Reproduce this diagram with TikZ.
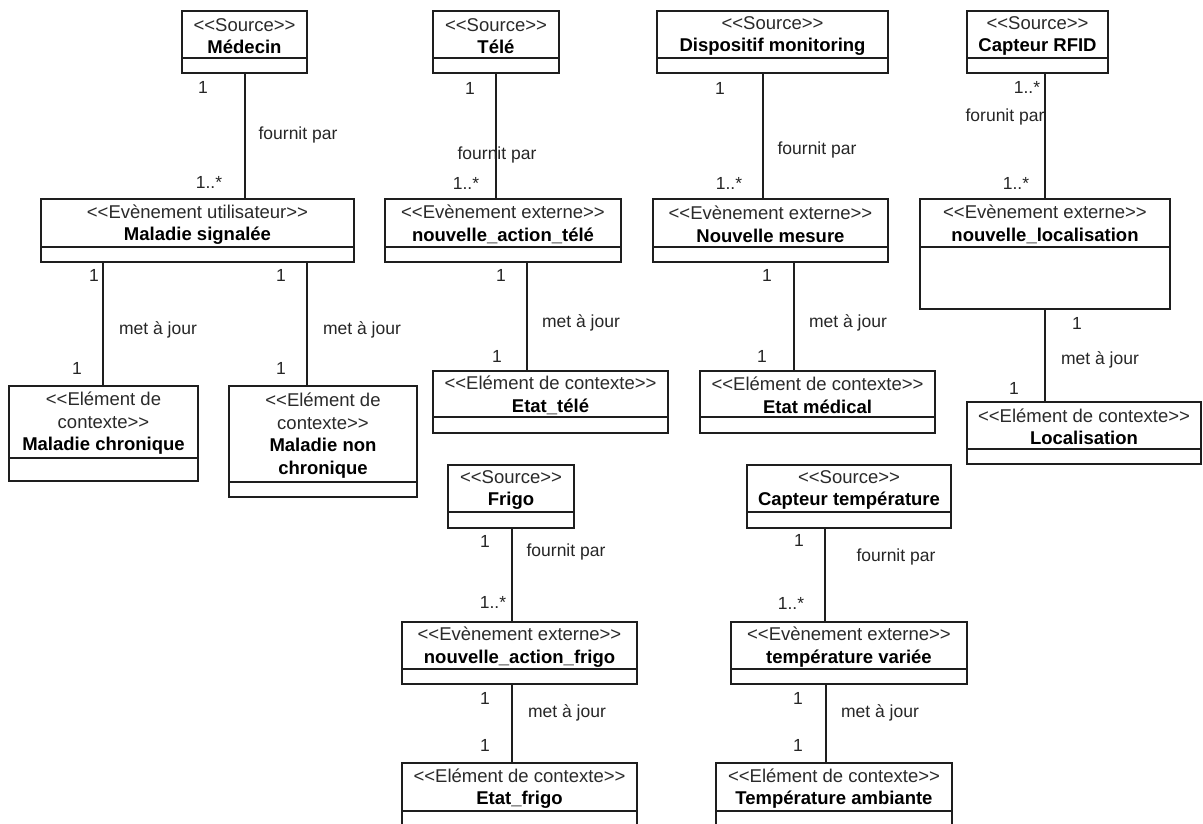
\documentclass[tikz,border=0pt]{standalone}
\usepackage{fontspec}
\setmainfont{Liberation Sans}
\definecolor{linec}{HTML}{1E1E1E}
\definecolor{stc}{HTML}{2A2A2A}
\newcommand{\stl}{<\kern0pt<}
\newcommand{\stg}{>\kern0pt>}
\newcommand{\stereo}[1]{{\color{stc}\stl#1\stg}}
\newcommand{\stereoa}[1]{{\color{stc}\stl#1}}
\newcommand{\stereob}[1]{{\color{stc}#1\stg}}
\tikzset{
 cls/.style={draw=linec, line width=1.5pt, inner sep=0pt, rectangle},
 clstext/.style={align=center, inner sep=0pt, font=\fontsize{18.5}{22.5}\selectfont, text=black},
 lbl/.style={inner sep=0pt, font=\fontsize{17.5}{20}\selectfont, text=black!85},
 assoc/.style={draw=linec, line width=1.5pt},
}
% name, x1, y1, x2, y2, ydivider, text
\newcommand{\umlc}[7]{%
 \node[cls, minimum width={#4-#2}, minimum height={#5-#3}] (#1) at ({(#2+#4)/2},{(#3+#5)/2}) {};
 \draw[assoc] (#1.west |- 0,#6) -- (#1.east |- 0,#6);
 \node[clstext] (#1-t) at ({(#2+#4)/2},{(#3+#6)/2+1.5}) {#7};
}
\newcommand{\lab}[4]{\node[lbl] (#1) at (#2,#3) {#4};}
\begin{document}
\begin{tikzpicture}[x=1pt,y=-1pt]
\fill[white] (0,0) rectangle (1203,823);
\useasboundingbox (0,0) rectangle (1203,823);

% ---- classes ----
\umlc{medecin}{182}{11}{307}{73}{58}{\stereo{Source}\\\textbf{Médecin}}
\umlc{malsig}{41}{199}{354}{262}{247}{\stereo{Evènement utilisateur}\\\textbf{Maladie signalée}}
\umlc{malchr}{9}{386}{198}{481}{458}{\stereoa{Elément de}\\\stereob{contexte}\\\textbf{Maladie chronique}}
\umlc{malnon}{229}{386}{417}{497}{482}{\stereoa{Elément de}\\\stereob{contexte}\\\textbf{Maladie non}\\\textbf{chronique}}

\umlc{tele}{433}{11}{559}{73}{58}{\stereo{Source}\\\textbf{Télé}}
\umlc{natele}{385}{199}{621}{262}{247}{\stereo{Evènement externe}\\\textbf{nouvelle\_action\_télé}}
\umlc{etattele}{433}{371}{668}{433}{417}{\stereo{Elément de contexte}\\\textbf{Etat\_télé}}

\umlc{dispo}{657}{11}{888}{73}{58}{\stereo{Source}\\\textbf{Dispositif monitoring}}
\umlc{nmesure}{653}{199}{888}{262}{247}{\stereo{Evènement externe}\\\textbf{Nouvelle mesure}}
\umlc{etatmed}{700}{371}{935}{433}{417}{\stereo{Elément de contexte}\\\textbf{Etat médical}}

\umlc{rfid}{967}{11}{1108}{73}{58}{\stereo{Source}\\\textbf{Capteur RFID}}
\umlc{nloc}{920}{199}{1170}{309}{247}{\stereo{Evènement externe}\\\textbf{nouvelle\_localisation}}
\umlc{loc}{967}{402}{1201}{464}{449}{\stereo{Elément de contexte}\\\textbf{Localisation}}

\umlc{frigo}{448}{465}{574}{528}{512}{\stereo{Source}\\\textbf{Frigo}}
\umlc{nafrigo}{402}{622}{637}{684}{669}{\stereo{Evènement externe}\\\textbf{nouvelle\_action\_frigo}}
\umlc{etatfrigo}{402}{763}{637}{828}{811}{\stereo{Elément de contexte}\\\textbf{Etat\_frigo}}

\umlc{captemp}{747}{465}{951}{528}{512}{\stereo{Source}\\\textbf{Capteur température}}
\umlc{tempvar}{731}{622}{967}{684}{669}{\stereo{Evènement externe}\\\textbf{température variée}}
\umlc{tempamb}{716}{763}{952}{828}{811}{\stereo{Elément de contexte}\\\textbf{Température ambiante}}

% ---- connectors ----
\draw[assoc] (medecin.south -| 245,0) -- (malsig.north -| 245,0);
\draw[assoc] (malsig.south -| 103,0) -- (malchr.north -| 103,0);
\draw[assoc] (malsig.south -| 307,0) -- (malnon.north -| 307,0);
\draw[assoc] (tele.south -| 496,0) -- (natele.north -| 496,0);
\draw[assoc] (natele.south -| 527,0) -- (etattele.north -| 527,0);
\draw[assoc] (dispo.south -| 763,0) -- (nmesure.north -| 763,0);
\draw[assoc] (nmesure.south -| 794,0) -- (etatmed.north -| 794,0);
\draw[assoc] (rfid.south -| 1045,0) -- (nloc.north -| 1045,0);
\draw[assoc] (nloc.south -| 1045,0) -- (loc.north -| 1045,0);
\draw[assoc] (frigo.south -| 512,0) -- (nafrigo.north -| 512,0);
\draw[assoc] (nafrigo.south -| 512,0) -- (etatfrigo.north -| 512,0);
\draw[assoc] (captemp.south -| 825,0) -- (tempvar.north -| 825,0);
\draw[assoc] (tempvar.south -| 826,0) -- (tempamb.north -| 826,0);

% ---- labels ----
\lab{a1}{203}{87}{1}
\lab{a2}{298}{135}{fournit par}
\lab{a3}{209}{182}{1..*}
\lab{b1}{94}{275}{1}
\lab{b2}{158}{330}{met à jour}
\lab{b3}{77}{368}{1}
\lab{c1}{281}{275}{1}
\lab{c2}{362}{330}{met à jour}
\lab{c3}{281}{368}{1}

\lab{d1}{470}{88}{1}
\lab{d2}{497}{155}{fournit par}
\lab{d3}{466}{183}{1..*}
\lab{e1}{501}{275}{1}
\lab{e2}{581}{323}{met à jour}
\lab{e3}{497}{356}{1}

\lab{f1}{720}{88}{1}
\lab{f2}{817}{150}{fournit par}
\lab{f3}{729}{183}{1..*}
\lab{g1}{767}{275}{1}
\lab{g2}{848}{323}{met à jour}
\lab{g3}{762}{356}{1}

\lab{h1}{1027}{87}{1..*}
\lab{h2}{1005}{117}{forunit par}
\lab{h3}{1016}{183}{1..*}
\lab{i1}{1077}{323}{1}
\lab{i2}{1100}{360}{met à jour}
\lab{i3}{1014}{388}{1}

\lab{j1}{485}{541}{1}
\lab{j2}{566}{552}{fournit par}
\lab{j3}{493}{602}{1..*}
\lab{k1}{485}{698}{1}
\lab{k2}{567}{713}{met à jour}
\lab{k3}{485}{745}{1}

\lab{m1}{799}{540}{1}
\lab{m2}{896}{557}{fournit par}
\lab{m3}{791}{603}{1..*}
\lab{n1}{798}{698}{1}
\lab{n2}{880}{713}{met à jour}
\lab{n3}{798}{745}{1}
\end{tikzpicture}
\end{document}
